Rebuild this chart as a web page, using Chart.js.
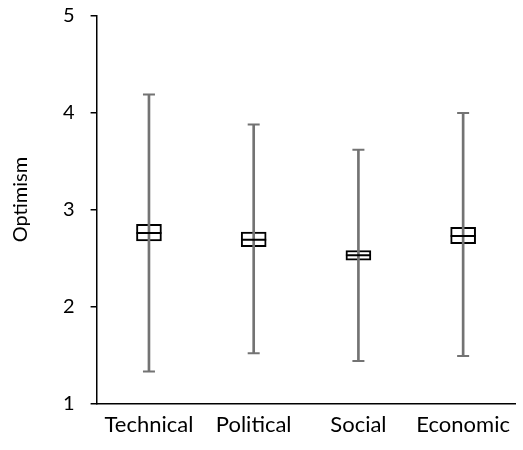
<!DOCTYPE html>
<html>
<head>
<meta charset="utf-8">
<script src="https://cdn.jsdelivr.net/npm/chart.js@4"></script>
<style>
html,body{margin:0;padding:0;background:#fff;overflow:hidden;}
#wrap{width:530px;height:450px;}
</style>
</head>
<body>
<div id="wrap"><canvas id="c" width="530" height="450"></canvas></div>
<script>
const categories = ['Technical', 'Political', 'Social', 'Economic'];
const whiskerLow  = [1.33, 1.52, 1.44, 1.49];
const whiskerHigh = [4.19, 3.88, 3.62, 4.00];
const boxLow  = [2.68, 2.62, 2.48, 2.65];
const boxHigh = [2.85, 2.77, 2.58, 2.82];
const centre  = [2.76, 2.69, 2.53, 2.73];
const yTicks = [1, 2, 3, 4, 5];

const gray = '#737373';
const FONT = 'Lato, "Open Sans", sans-serif';

new Chart(document.getElementById('c'), {
  type: 'bar',
  data: {
    labels: categories,
    datasets: [
      {
        type: 'bar', order: 4, grouped: false,
        data: boxLow.map((v, i) => [v, boxHigh[i]]),
        backgroundColor: '#ffffff', borderColor: '#000000',
        borderWidth: 2, borderSkipped: false, barThickness: 25
      },
      {
        type: 'bar', order: 3, grouped: false,
        data: whiskerLow.map((v, i) => [v, whiskerHigh[i]]),
        backgroundColor: gray, borderWidth: 0, barThickness: 2
      },
      {
        type: 'line', order: 2, showLine: false,
        data: whiskerHigh,
        pointStyle: 'line', pointRadius: 6, pointBorderWidth: 2,
        pointBorderColor: gray, borderColor: gray
      },
      {
        type: 'line', order: 2, showLine: false,
        data: whiskerLow,
        pointStyle: 'line', pointRadius: 6, pointBorderWidth: 2,
        pointBorderColor: gray, borderColor: gray
      },
      {
        type: 'line', order: 1, showLine: false,
        data: centre,
        pointStyle: 'line', pointRadius: 12.5, pointBorderWidth: 2,
        pointBorderColor: '#000000', borderColor: '#000000'
      }
    ]
  },
  options: {
    responsive: false,
    animation: false,
    devicePixelRatio: 1,
    layout: { padding: { top: 0, left: 9, right: 0, bottom: 4 } },
    plugins: { legend: { display: false }, tooltip: { enabled: false } },
    scales: {
      x: {
        type: 'category',
        offset: true,
        grid: { display: true, drawOnChartArea: false, drawTicks: false },
        border: { display: true, color: '#000', width: 1.5 },
        ticks: { color: '#000', padding: 8, font: { family: FONT, size: 22 }, maxRotation: 0 }
      },
      y: {
        min: 1, max: 5,
        afterBuildTicks: (s) => { s.ticks = yTicks.map(v => ({ value: v })); },
        afterFit: (s) => { s.paddingTop = 16; },
        grid: { display: true, drawOnChartArea: false, drawTicks: true, tickLength: 6, color: '#000', lineWidth: 1.5 },
        border: { display: true, color: '#000', width: 1.5 },
        ticks: { color: '#000', padding: 16, font: { family: FONT, size: 20 } },
        title: { display: true, text: '    Optimism', color: '#000', padding: { top: 0, bottom: 14 }, font: { family: FONT, size: 20 } }
      }
    }
  }
});
</script>
</body>
</html>
